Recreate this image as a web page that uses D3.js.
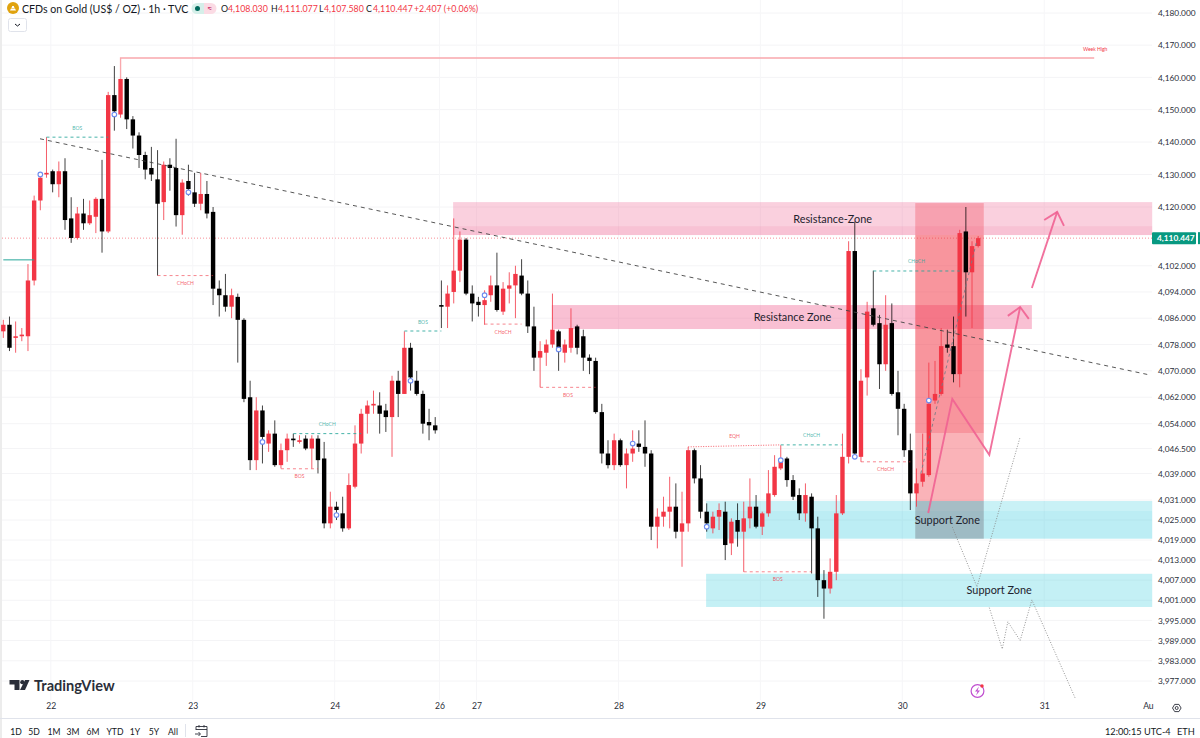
<!DOCTYPE html>
<html>
<head>
<meta charset="utf-8">
<script src="https://d3js.org/d3.v7.min.js"></script>
<style>
  body { margin: 0; background: #fff; overflow: hidden; }
  svg { display: block; }
  text { font-family: Lato, sans-serif; }
</style>
</head>
<body>
<svg id="chart" width="1200" height="738"></svg>
<script>
// 1h candles, one value per bar
var opens = [4082,4084,4080,4080.5,4080.5,4097.5,4122,4130,4131,4127,
  4131,4116.5,4110.5,4118,4115,4117,4122.5,4112.5,4154.5,4148.5,
  4159.5,4147,4142,4136,4132,4128.5,4121.5,4133,4132,4117.5,
  4128,4124.5,4121,4124,4118.5,4095,4093,4089.5,4092.5,4085.5,
  4062,4043,4058,4048,4051,4041.5,4046,4049.5,4048.5,4049.5,
  4046.5,4049.5,4043.5,4024,4029,4027,4022.5,4035,4048,4057,
  4059.5,4059.5,4058,4056,4067,4063,4077,4067,4063,4054.5,
  4053.5,4090,4089.5,4094,4100.5,4110,4093.5,4091,4090,4093,
  4096,4088,4095,4096,4099,4093.5,4083.5,4074,4075.5,4078,
  4082,4075.5,4077,4083.5,4080.5,4074,4073,4057.5,4045,4041.5,
  4049,4041.5,4045,4048,4047,4045,4023,4026,4027.5,4029,
  4021.5,4024,4046,4037.5,4027.5,4022.5,4026,4027.5,4018,4025,
  4021.5,4025.5,4029,4023,4027,4032.5,4040.5,4043.5,4037,4032.5,
  4027,4032,4022.5,4007,4004.5,4009.5,4027,4044,4106.5,4044,
  4068,4089,4084.5,4072,4084.5,4063.5,4058.5,4046,4033,4036.5,
  4038.5,4061,4063,4078,4077.5,4069,4112.5,4100,4108.03];
var highs = [4085.5,4086.5,4085,4083,4102.5,4123.5,4130,4141.5,4131.5,4134,
  4135,4123,4120,4122.5,4122,4123,4134.5,4155.5,4163.5,4166,
  4160,4148,4143,4137,4138.5,4137.5,4134,4135,4141,4128.5,
  4133,4130.5,4130.5,4128,4120,4097.5,4099.5,4095,4093.5,4086,
  4067,4062,4059.5,4052,4055,4048,4051,4051,4050.5,4050.5,
  4050.5,4050.5,4048.5,4033.5,4030.5,4032,4039,4053.5,4058.5,4061,
  4064,4063.5,4060,4068.5,4070,4082,4078.5,4070,4064,4058.5,
  4056,4097.5,4096,4116.5,4112.5,4110.5,4096,4092.5,4094.5,4099,
  4106,4097,4100,4102,4104,4097.5,4089.5,4079,4079.5,4093.5,
  4082.5,4079.5,4089,4084,4082.5,4075,4074,4060,4049,4051,
  4049.5,4046.5,4052,4052,4055,4046,4028.5,4032,4038,4036,
  4033.5,4047,4046.5,4041.5,4030,4027.5,4030,4030.5,4025.5,4030,
  4030.5,4037.5,4032.5,4027.5,4040,4044.5,4047.5,4044,4038.5,4034.5,
  4036,4033,4026,4010,4013.5,4032.5,4051,4109.5,4115.5,4070.5,
  4091,4100.5,4087,4093,4090.5,4070,4060,4051,4040.5,4051,
  4072.5,4073,4083,4082.5,4086.5,4113,4120,4109.5,4111.077];
var lows = [4080,4076,4075.5,4079,4076,4096,4119,4129,4124.5,4123,
  4113,4109,4110,4113,4114.5,4112,4106,4112,4143.5,4147.5,
  4144,4138,4132,4128.5,4128,4099,4116,4125,4114,4111.5,
  4123.5,4120,4119,4116.5,4090,4086.5,4088,4086,4072.5,4060.5,
  4040,4040,4042,4045.5,4041,4040.5,4042.5,4047,4048,4046,
  4040.5,4039,4022.5,4022.5,4025,4021.5,4022,4034.5,4045,4051,
  4057,4051,4051.5,4044,4056,4063,4064,4062.5,4051,4049,
  4051,4083,4083,4090.5,4097,4093,4085,4086.5,4084,4091,
  4088,4087,4090.5,4086,4093,4081.5,4070,4065,4071.5,4077,
  4070,4072.5,4075.5,4075,4070,4069,4057,4042,4040.5,4040,
  4041,4034.5,4042.5,4045.5,4041,4019,4016.5,4023,4022.5,4019.5,
  4011,4021.5,4036,4025.5,4021.5,4021,4022,4013,4014.5,4017,
  4009.5,4022.5,4022.5,4020.5,4026,4032,4040,4035,4031,4025,
  4024.5,4009,4002,3995.5,4003,4007,4026.5,4042,4043.5,4042.5,
  4062.5,4083.5,4064.5,4070,4062.5,4050.5,4044,4028,4029,4035,
  4038,4060,4062.5,4075.5,4066.5,4065,4086.5,4083,4107.58];
var closes = [4084,4077,4080.5,4081,4097.5,4122,4129,4130.5,4127,4131,
  4116,4110.5,4118,4115,4117.5,4122.5,4112.5,4154.5,4149.5,4159.5,
  4147,4142,4136,4131.5,4130,4121,4133,4132,4117.5,4127.5,
  4125.5,4121,4124,4118,4095,4093,4089.5,4093,4085.5,4061.5,
  4043,4058,4050,4051,4041.5,4046,4049.5,4049,4049,4046.5,
  4049.5,4043,4024,4029,4028,4022.5,4035.5,4048,4057,4059.5,
  4060,4057,4056,4067,4063,4077,4068,4063,4054,4053.5,
  4052,4089.5,4093.5,4100.5,4110,4093.5,4090.5,4090,4091.5,4096,
  4088.5,4095,4096,4099.5,4093.5,4083.5,4074,4076,4078,4082.5,
  4077,4078,4083,4077,4074,4073,4057.5,4045,4041.5,4049,
  4041.5,4045,4046.5,4047,4045,4023,4026,4027.5,4029,4021.5,
  4024,4046,4037.5,4027.5,4024,4026,4028,4017.5,4024.5,4021.5,
  4025.5,4029,4023,4027,4033,4041,4042.5,4037,4032,4027,
  4032.5,4022.5,4007,4004.5,4009.5,4027,4044,4106.5,4045,4067,
  4088,4084,4072,4084,4063,4058.5,4046,4033,4036,4039,
  4060,4063,4077.5,4077,4069,4112,4100,4108,4110.447];

// axis labels
var priceTicks = [4180,4170,4160,4150,4140,4130,4120,4102,4094,4086,4078,4070,4062,4054,4046.5,4039,4031,4025,4019,4013,4007,4001,3995,3989,3983,3977];
var lastPrice = 4110.447;
var dayBars = [7.7,30.7,53.7,70.7,76.7,99.7,122.7,145.7,168.7,185.5];
var dayLabels = ["22","23","24","26","27","28","29","30","31","Au"];
var rangeLabels = ["1D","5D","1M","3M","6M","YTD","1Y","5Y","All"];
var rangeSpots = [16,34,54,73,93,115,135,154,173];

// 12h session markers
var markerBars = [6,18,30,42,54,66,78,90,102,114,126,138,150];
var markerPrices = [4130,4148.5,4124.5,4048.5,4026.5,4067,4093,4076.5,4048,4023,4043,4044,4061];

// market structure levels
var levelStart = [7,25,47,45,65,78,87,126,120,139,141];
var levelEnd = [17,34,58,51,71,84,96,136,131,147,155];
var levelPrice = [4141.5,4099,4051,4040.4,4082.1,4084.2,4065,4047.6,4009.5,4042.5,4100.4];
var levelLabel = ["BOS","CHoCH","CHoCH","BOS","BOS","CHoCH","BOS","CHoCH","BOS","CHoCH","CHoCH"];
var levelBull = [true,false,true,false,true,false,false,true,false,false,true];

// hand drawn lines, [bars], [prices]
var trendBars = [5.95,185.8], trendPrices = [4141,4068.75];
var weekBars = [19,19,176.8], weekPrices = [4159.5,4166,4166];
var eqhBars = [111,126], eqhPrices = [4047,4047.6];
var swingBars = [0,5], swingPrices = [4103.8,4103.8];
var arrowOneBars = [149.9,153.8,159.8,164.8], arrowOnePrices = [4027.1,4061.5,4044.6,4089.4];
var headOneBars = [162.8,164.8,166.2], headOnePrices = [4086.7,4089.4,4085.8];
var arrowTwoBars = [166.7,170.8], arrowTwoPrices = [4095.2,4118.5];
var headTwoBars = [168.7,170.8,171.9], headTwoPrices = [4116,4118.5,4114.2];
var dotsOneBars = [153.8,157.8,164.8], dotsOnePrices = [4022.9,4005,4050];
var dotsTwoBars = [159.8,161.9,162.8,164.8,166.7,173.7], dotsTwoPrices = [3998.8,3986.5,3994.6,3989,4001.1,3972];
var riseBars = [148.7,157.8], risePrices = [4039,4109.9];

var svg = d3.select("#chart");
var plotRight = 1152, plotBottom = 700;

var x = d3.scaleLinear().domain([0, 158]).range([3.3, 978.2]);
// the price axis of the chart is logarithmic
var y = d3.scaleLog().domain([3977, 4180]).range([681, 13]);

function zone(b0, b1, p0, p1, fill, op) {
  svg.append("rect")
    .attr("x", x(b0)).attr("width", x(b1) - x(b0))
    .attr("y", y(p0)).attr("height", y(p1) - y(p0))
    .attr("fill", fill).attr("fill-opacity", op);
}
var pathLine = function(bars, prices) {
  return d3.line().x(function(d) { return x(d); }).y(function(d, i) { return y(prices[i]); })(bars);
};
function poly(bars, prices, color, w, dash, op) {
  svg.append("path").attr("d", pathLine(bars, prices))
    .attr("fill", "none").attr("stroke", color).attr("stroke-width", w)
    .attr("stroke-opacity", op || 1)
    .attr("stroke-dasharray", dash || null);
}

// left strip
svg.append("rect").attr("width", 2).attr("height", 738).attr("fill", "#ececec");

// grid + axes
var axisY = d3.axisRight(y).tickValues(priceTicks).tickSize(0).tickPadding(7)
  .tickFormat(d3.format(",.3f"));
var gy = svg.append("g").attr("transform", "translate(" + (plotRight - 1) + ",0)").call(axisY);
gy.select(".domain").remove();
gy.selectAll("text").attr("font-family", "Lato").attr("font-size", 8.3).attr("fill", "#2a2e39");

var axisX = d3.axisBottom(x).tickValues(dayBars).tickSize(0).tickPadding(0)
  .tickFormat(function(d, i) { return dayLabels[i]; });
var gx = svg.append("g").attr("transform", "translate(0,702.5)").call(axisX);
gx.select(".domain").remove();
gx.selectAll("text").attr("font-family", "Lato").attr("font-size", 8.6).attr("fill", "#2a2e39");

svg.append("g").selectAll("line").data(priceTicks).join("line")
  .attr("x1", 2).attr("x2", plotRight).attr("y1", function(d) { return y(d); }).attr("y2", function(d) { return y(d); })
  .attr("stroke", "#f4f4f6");
svg.append("g").selectAll("line").data(dayBars.slice(0, 9)).join("line")
  .attr("x1", function(d) { return x(d); }).attr("x2", function(d) { return x(d); })
  .attr("y1", 0).attr("y2", plotBottom).attr("stroke", "#f6f6f8");

// zones
zone(72.9, 186.2, 4121.5, 4111.4, "#f06292", 0.3);
zone(72.9, 186.2, 4114.1, 4111.4, "#f06292", 0.13);
zone(88.9, 166.7, 4090, 4082.7, "#f06292", 0.4);
zone(113.9, 186.2, 4030.7, 4027.7, "#26c6da", 0.25);
zone(113.9, 186.2, 4027.7, 4019.4, "#26c6da", 0.31);
zone(113.9, 186.2, 4008.9, 3999, "#26c6da", 0.27);
// position box, paler where it meets the top zone
zone(147.8, 158.9, 4121.2, 4111.4, "#f23645", 0.3);
zone(147.8, 158.9, 4111.4, 4051.2, "#f23645", 0.53);
zone(147.8, 158.9, 4051.2, 4030.7, "#f23645", 0.38);
zone(147.8, 158.9, 4030.7, 4019.4, "#787b86", 0.44);

// last price line
svg.append("line").attr("x1", 2).attr("x2", plotRight)
  .attr("y1", y(lastPrice)).attr("y2", y(lastPrice))
  .attr("stroke", "#f23645").attr("stroke-opacity", 0.7).attr("stroke-width", 0.8).attr("stroke-dasharray", "1 2");

// candles
var idx = d3.range(opens.length);
var up = function(i) { return closes[i] >= opens[i]; };
var candleColor = function(i) { return up(i) ? "#f23645" : "#000"; };
svg.append("g").selectAll("line").data(idx).join("line")
  .attr("x1", function(i) { return x(i); }).attr("x2", function(i) { return x(i); })
  .attr("y1", function(i) { return y(highs[i]); }).attr("y2", function(i) { return y(lows[i]); })
  .attr("stroke", candleColor).attr("stroke-opacity", function(i) { return up(i) ? 0.8 : 0.75; }).attr("stroke-width", 1);
svg.append("g").selectAll("rect").data(idx).join("rect")
  .attr("x", function(i) { return x(i) - 2.2; }).attr("width", 4.4)
  .attr("y", function(i) { return y(Math.max(opens[i], closes[i])); })
  .attr("height", function(i) { return Math.max(1.2, y(Math.min(opens[i], closes[i])) - y(Math.max(opens[i], closes[i]))); })
  .attr("fill", candleColor);

// structure levels
var levels = svg.append("g");
levelStart.forEach(function(b, i) {
  var c = levelBull[i] ? "#26a69a" : "#f23645";
  levels.append("line").attr("x1", x(b)).attr("x2", x(levelEnd[i]))
    .attr("y1", y(levelPrice[i])).attr("y2", y(levelPrice[i]))
    .attr("stroke", c).attr("stroke-opacity", levelBull[i] ? 0.85 : 0.6).attr("stroke-width", 1).attr("stroke-dasharray", "3 3");
  levels.append("text").attr("x", x((b + levelEnd[i]) / 2))
    .attr("y", y(levelPrice[i]) + (levelBull[i] ? -7.5 : 9.5))
    .attr("text-anchor", "middle").attr("font-size", 5).attr("fill", c).attr("fill-opacity", 0.8)
    .text(levelLabel[i]);
});
poly(eqhBars, eqhPrices, "#f23645", 0.8, "1 1.5");
levels.append("text").attr("x", x(118.5)).attr("y", y(4047) - 9).attr("text-anchor", "middle")
  .attr("font-size", 5).attr("fill", "#f23645").attr("fill-opacity", 0.8).text("EQH");
poly(swingBars, swingPrices, "#26a69a", 1);

// week high
poly(weekBars, weekPrices, "#f9a8ad", 1.3);
svg.append("text").attr("x", x(176.8) + 1).attr("y", y(4166) - 7).attr("text-anchor", "middle")
  .attr("font-size", 5).attr("fill", "#f23645").text("Week High");

// trend line, dotted scenarios
poly(trendBars, trendPrices, "#444", 0.9, "4 4");
poly(riseBars, risePrices, "#787b86", 0.9, "3 3");
poly(dotsOneBars, dotsOnePrices, "#888", 0.9, "1 1.6");
poly(dotsTwoBars, dotsTwoPrices, "#888", 0.9, "1 1.6");

// pink arrows
poly(arrowOneBars, arrowOnePrices, "#f06292", 1.9, null, 0.9);
poly(headOneBars, headOnePrices, "#f06292", 1.9, null, 0.9);
poly(arrowTwoBars, arrowTwoPrices, "#f06292", 1.9, null, 0.9);
poly(headTwoBars, headTwoPrices, "#f06292", 1.9, null, 0.9);

// session circles
svg.append("g").selectAll("circle").data(markerBars).join("circle")
  .attr("cx", function(d) { return x(d); }).attr("cy", function(d, i) { return y(markerPrices[i]); })
  .attr("r", 2.3).attr("fill", "#fff").attr("stroke", "#6d8cf0").attr("stroke-width", 1.1);

// zone captions
function caption(b, p, t) {
  svg.append("text").attr("x", x(b)).attr("y", y(p)).attr("dy", "0.35em")
    .attr("text-anchor", "middle").attr("font-size", 10.9).attr("fill", "#1e222d").text(t);
}
caption(134.4, 4116.4, "Resistance-Zone");
caption(127.9, 4086.4, "Resistance Zone");
caption(153, 4025, "Support Zone");
caption(161.4, 4004, "Support Zone");

// last price tag
svg.append("rect").attr("x", 1152).attr("y", y(lastPrice) - 6).attr("width", 44).attr("height", 12).attr("rx", 1).attr("fill", "#089981");
svg.append("rect").attr("x", 1198).attr("y", y(lastPrice) - 6).attr("width", 2).attr("height", 12).attr("fill", "#089981");
svg.append("text").attr("x", 1157).attr("y", y(lastPrice)).attr("dy", "0.35em")
  .attr("font-size", 8.3).attr("font-weight", 700).attr("fill", "#fff").text(d3.format(",.3f")(lastPrice));

// header
svg.append("circle").attr("cx", 13).attr("cy", 8).attr("r", 6).attr("fill", "#e0a30f");
svg.append("path").attr("d", "M10 10.5h6l-1-2h-4zM11.5 8h3l-.7-2h-1.6z").attr("fill", "#fff");
svg.append("text").attr("x", 22).attr("y", 12.5).attr("font-size", 10.6).attr("fill", "#131722")
  .text("CFDs on Gold (US$ / OZ) · 1h · TVC");
svg.append("path").attr("d", "M197 3h7v11h-7a5.5 5.5 0 0 1 0-11z").attr("fill", "#d5efe9");
svg.append("path").attr("d", "M204 3h7a5.5 5.5 0 0 1 0 11h-7z").attr("fill", "#fbdbe4");
svg.append("circle").attr("cx", 197.5).attr("cy", 8.5).attr("r", 2.5).attr("fill", "#00695c");
svg.append("text").attr("x", 209.5).attr("y", 11.5).attr("text-anchor", "middle").attr("font-size", 9).attr("fill", "#c2185b").text("≈");
var ohlc = [["O", "4,108.030", 221], ["H", "4,111.077", 271], ["L", "4,107.580", 319], ["C", "4,110.447", 366]];
ohlc.forEach(function(o) {
  svg.append("text").attr("x", o[2]).attr("y", 12).attr("font-size", 8.8).attr("fill", "#131722").text(o[0]);
  svg.append("text").attr("x", o[2] + (o[0] === "L" ? 5 : 7)).attr("y", 12).attr("font-size", 8.8).attr("fill", "#f23645").text(o[1]);
});
svg.append("text").attr("x", 414).attr("y", 12).attr("font-size", 8.8).attr("fill", "#f23645").text("+2.407 (+0.06%)");
svg.append("rect").attr("x", 8.5).attr("y", 18.5).attr("width", 18).attr("height", 13).attr("rx", 2).attr("fill", "#fff").attr("stroke", "#e0e3eb");
svg.append("path").attr("d", "M15 24l2.5 2 2.5-2").attr("fill", "none").attr("stroke", "#131722");

// logo
svg.append("path").attr("d", "M9.5 680h10v10h-5v-5.5h-5z").attr("fill", "#2a2e39");
svg.append("circle").attr("cx", 22.3).attr("cy", 682.2).attr("r", 2.1).attr("fill", "#2a2e39");
svg.append("path").attr("d", "M25 680h4.5l-4.5 10h-5z").attr("fill", "#2a2e39");
svg.append("text").attr("x", 34).attr("y", 690.5).attr("font-size", 14.6).attr("font-weight", 700).attr("fill", "#2a2e39").text("TradingView");

// bottom bar
svg.append("line").attr("x1", 0).attr("x2", 1200).attr("y1", 718.5).attr("y2", 718.5).attr("stroke", "#e0e3eb");
var rangeX = d3.scaleOrdinal().domain(rangeLabels).range(rangeSpots);
svg.append("g").selectAll("text").data(rangeLabels).join("text")
  .attr("x", function(d) { return rangeX(d); }).attr("y", 735).attr("text-anchor", "middle")
  .attr("font-size", 8.6).attr("fill", "#131722").text(function(d) { return d; });
svg.append("line").attr("x1", 185.5).attr("x2", 185.5).attr("y1", 724).attr("y2", 737).attr("stroke", "#e0e3eb");
svg.append("path").attr("d", "M196 730v-3.5h11v10h-6M196 729.5h11M199 725v2.5M204 725v2.5M195 734h5M198.5 732l2 2-2 2")
  .attr("fill", "none").attr("stroke", "#2a2e39").attr("stroke-width", 0.9);
svg.append("text").attr("x", 1105).attr("y", 735).attr("font-size", 9.2).attr("fill", "#131722").text("12:00:15 UTC-4");
svg.append("text").attr("x", 1177).attr("y", 735).attr("font-size", 9.2).attr("fill", "#131722").text("ETH");

// settings hexagon
svg.append("path").attr("d", "M1172.5 708l2.2-3.6h4.2l2.2 3.6-2.2 3.6h-4.2z").attr("fill", "none").attr("stroke", "#2a2e39").attr("stroke-width", 0.9);
svg.append("circle").attr("cx", 1176.7).attr("cy", 708).attr("r", 1.5).attr("fill", "none").attr("stroke", "#2a2e39").attr("stroke-width", 0.9);

// lightning badge
svg.append("circle").attr("cx", 977.5).attr("cy", 691).attr("r", 6.4).attr("fill", "#fff").attr("stroke", "#c050d0").attr("stroke-width", 1.2);
svg.append("path").attr("d", "M979 686.5l-4 5h2.5l-1.5 4 4-5h-2.5z").attr("fill", "#c050d0");
svg.append("circle").attr("cx", 982).attr("cy", 686).attr("r", 1.7).attr("fill", "#f23645");
</script>
</body>
</html>
